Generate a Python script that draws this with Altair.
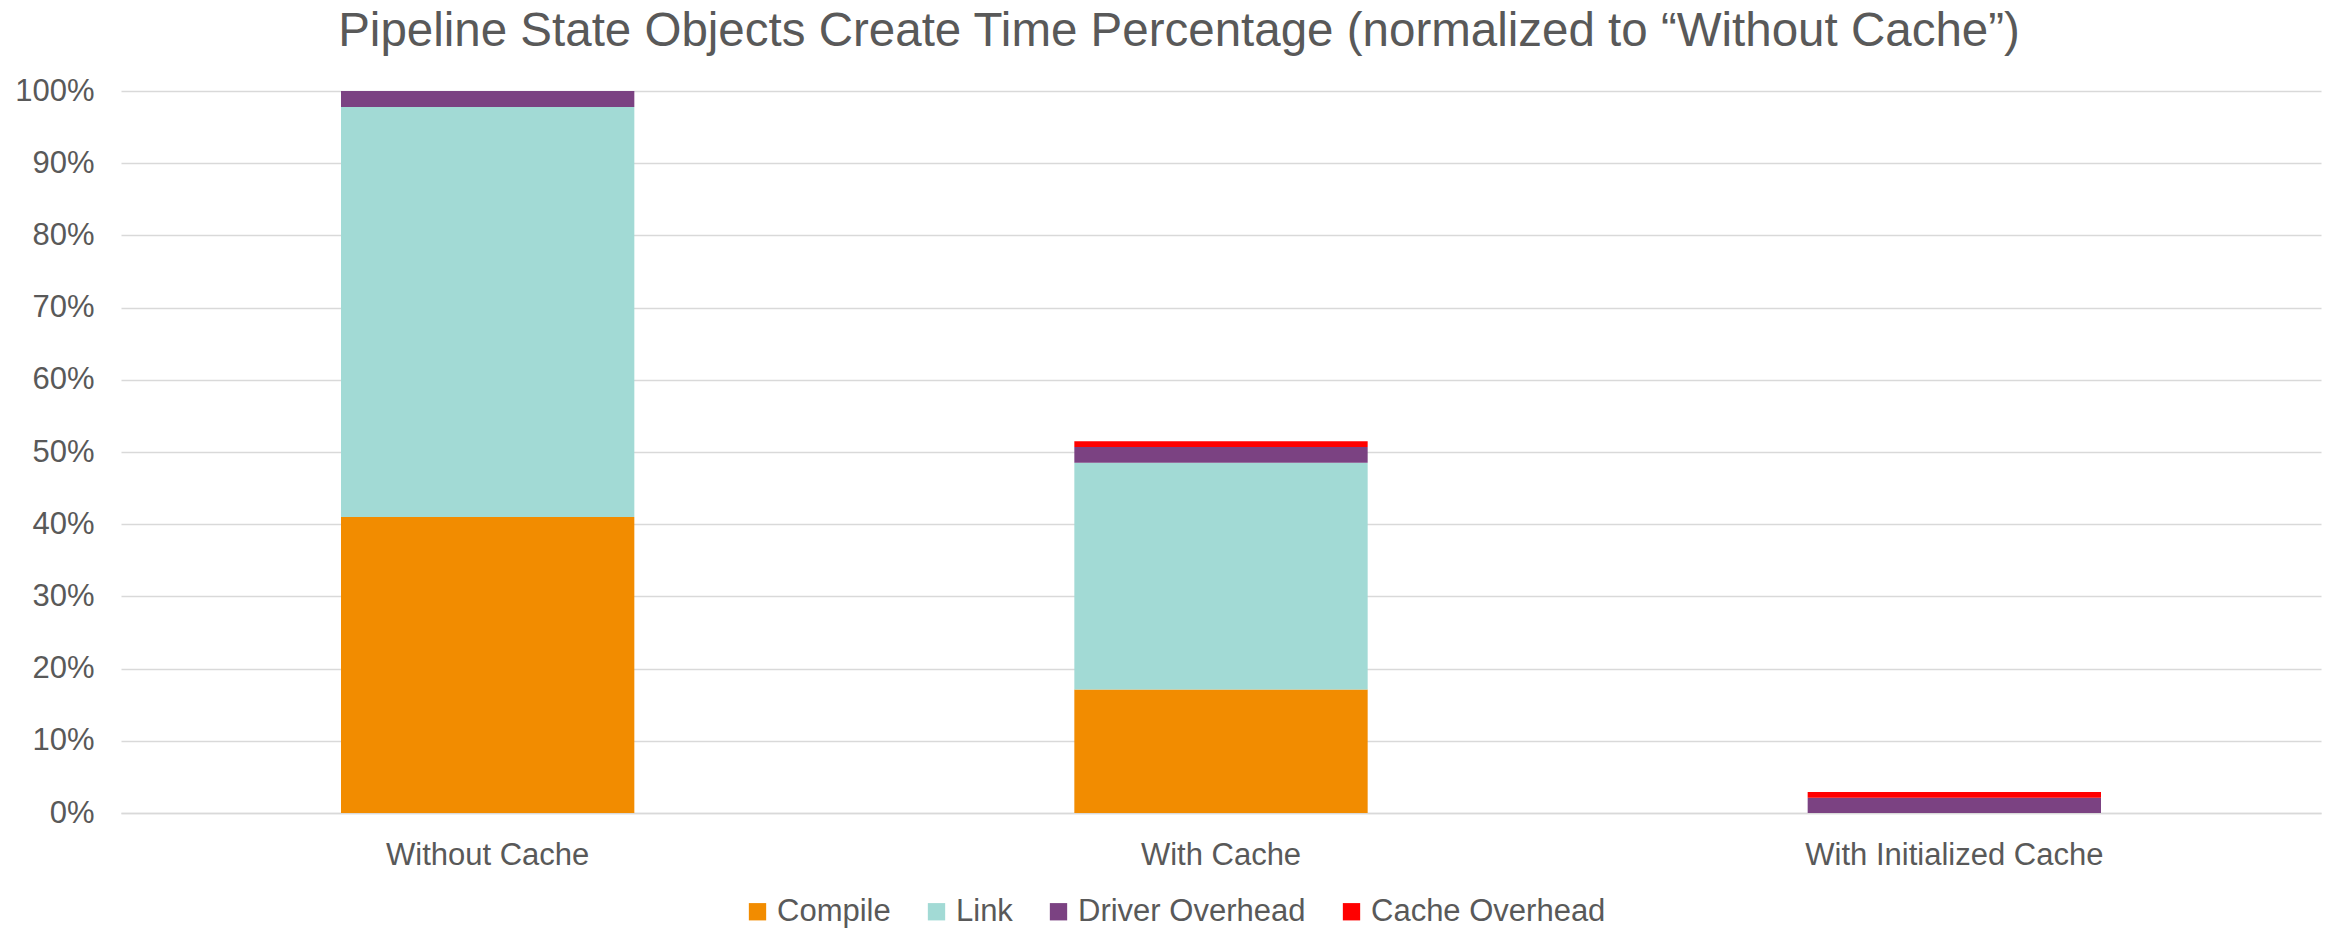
import altair as alt
import pandas as pd

categories = ["Without Cache", "With Cache", "With Initialized Cache"]
series = ["Compile", "Link", "Driver Overhead", "Cache Overhead"]
colors = ["#F28C00", "#A2DAD5", "#7B4282", "#FF0000"]
compile_vals = [41.0, 17.1, 0.0]
link_vals = [56.8, 31.4, 0.0]
driver_vals = [2.2, 2.2, 2.1]
cache_vals = [0.0, 0.8, 0.8]
y_ticks = [0, 0.1, 0.2, 0.3, 0.4, 0.5, 0.6, 0.7, 0.8, 0.9, 1.0]

rows = []
for si, (name, vals) in enumerate(zip(series, [compile_vals, link_vals, driver_vals, cache_vals])):
    for c, v in zip(categories, vals):
        rows.append({"category": c, "series": name, "value": v / 100.0, "order": si})
df = pd.DataFrame(rows)

FONT = "Liberation Sans"
TXT = "#595959"

chart = alt.Chart(df).mark_bar().encode(
    x=alt.X("category:N", sort=categories,
            scale=alt.Scale(paddingInner=0.6, paddingOuter=0.3),
            axis=alt.Axis(title=None, labelAngle=0, labelFontSize=31, labelColor=TXT,
                          labelFont=FONT, ticks=False, labelPadding=27, labelLimit=800,
                          grid=False, domainColor="#d9d9d9", domainWidth=1.5)),
    y=alt.Y("value:Q", stack="zero",
            scale=alt.Scale(domain=[0, 1], nice=False),
            axis=alt.Axis(title=None, format=".0%", values=y_ticks, labelFontSize=31,
                          labelColor=TXT, labelFont=FONT, ticks=False, labelPadding=27,
                          domain=False, gridColor="#d9d9d9", gridWidth=1.5)),
    color=alt.Color("series:N", sort=series,
                    scale=alt.Scale(domain=series, range=colors),
                    legend=alt.Legend(title=None, orient="none", direction="horizontal",
                                      legendX=621, legendY=805,
                                      symbolType="square", symbolSize=300,
                                      symbolStrokeWidth=0, labelFontSize=31,
                                      labelFont=FONT, labelColor=TXT, labelOffset=4,
                                      labelLimit=800,
                                      columnPadding=30, symbolOpacity=1)),
    order=alt.Order("order:Q", sort="ascending"),
).properties(
    width=2200,
    height=722,
    background="white",
    padding={"left": 121, "top": 91, "right": 12, "bottom": 115},
    autosize=alt.AutoSizeParams(type="none"),
    title=alt.TitleParams(
        "Pipeline State Objects Create Time Percentage (normalized to \u201cWithout Cache\u201d)",
        font=FONT, fontSize=47.5, fontWeight="normal", color=TXT, anchor="middle",
        dx=-42, offset=20),
).configure_view(strokeWidth=0, stroke="transparent")

chart.save("out.html", embed_options={"renderer": "svg", "actions": False})
